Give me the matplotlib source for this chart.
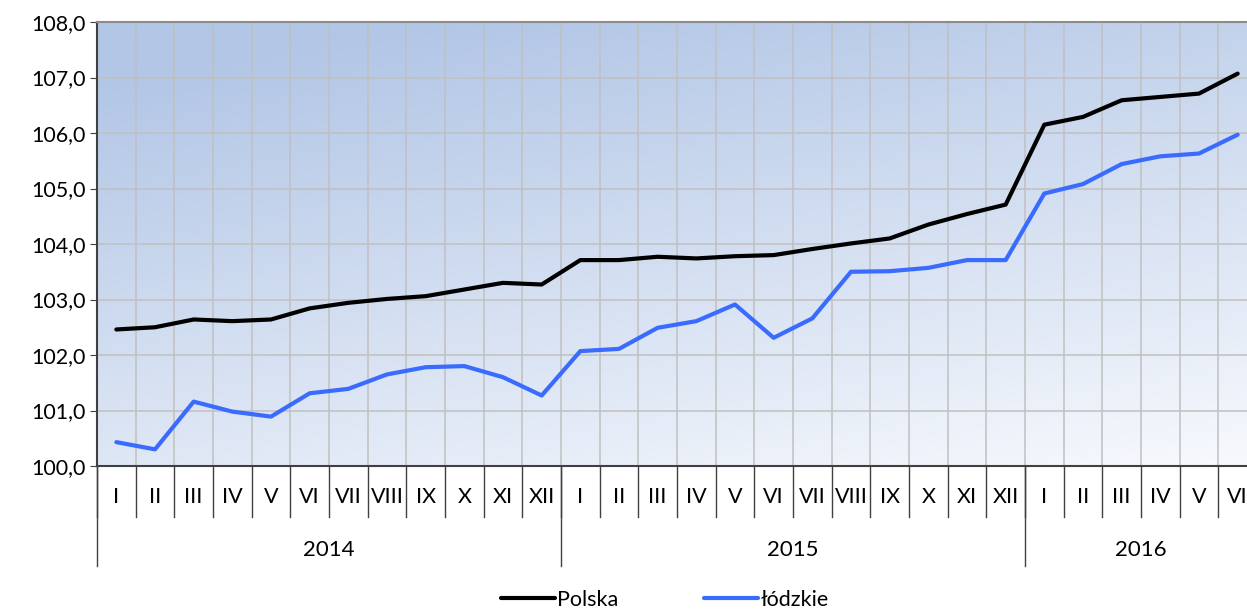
import matplotlib
matplotlib.use("Agg")
import matplotlib.pyplot as plt
import matplotlib.transforms as mtransforms
from matplotlib.colors import LinearSegmentedColormap
import numpy as np

plt.rcParams['font.family'] = ['Lato', 'DejaVu Sans']

months = ['I', 'II', 'III', 'IV', 'V', 'VI', 'VII', 'VIII', 'IX', 'X', 'XI', 'XII',
          'I', 'II', 'III', 'IV', 'V', 'VI', 'VII', 'VIII', 'IX', 'X', 'XI', 'XII',
          'I', 'II', 'III', 'IV', 'V', 'VI']
years = ['2014', '2015', '2016']
year_len = [12, 12, 6]

polska = [102.46, 102.50, 102.64, 102.61, 102.64, 102.84, 102.94, 103.01, 103.06, 103.18, 103.30, 103.27,
          103.71, 103.71, 103.77, 103.74, 103.78, 103.80, 103.91, 104.01, 104.10, 104.35, 104.54, 104.71,
          106.15, 106.29, 106.59, 106.65, 106.71, 107.07]
lodzkie = [100.43, 100.30, 101.16, 100.98, 100.89, 101.31, 101.39, 101.65, 101.78, 101.80, 101.60, 101.27,
           102.07, 102.11, 102.49, 102.61, 102.91, 102.31, 102.66, 103.50, 103.51, 103.57, 103.71, 103.71,
           104.91, 105.08, 105.44, 105.58, 105.63, 105.97]

W, H = 1247, 610
fs = 15.5
fig = plt.figure(figsize=(W / 100, H / 100), dpi=100)
n = len(months)
ax = fig.add_axes([97 / W, (H - 466) / H, 1160 / W, 444 / H])
x = np.arange(n)

# gradient background, darkest top-left
gx, gy = np.meshgrid(np.linspace(0, 1, 200), np.linspace(0, 1, 200))
t = np.clip(0.35 * (1 - gx) + 0.75 * (1 - gy), 0, 1)
cmap = LinearSegmentedColormap.from_list('bg', ['#f7f9fd', '#b2c6e6'])
ax.imshow(t, extent=[0, 1, 0, 1], transform=ax.transAxes, cmap=cmap,
          aspect='auto', origin='upper', zorder=0, interpolation='bilinear')

ax.plot(x, polska, color='black', lw=3, label='Polska', zorder=3, solid_capstyle='round')
ax.plot(x, lodzkie, color='#3a6bff', lw=3, label='łódzkie', zorder=3, solid_capstyle='round')

ax.set_xlim(-0.5, n - 0.5)
ax.set_ylim(100, 108)
ax.set_yticks(np.arange(100, 109, 1))
ax.set_yticklabels([f'{v:.1f}'.replace('.', ',') for v in np.arange(100, 109, 1)], fontsize=fs)
ax.set_xticks(np.arange(-0.5, n, 1), minor=False)
ax.set_xticklabels([])
ax.tick_params(axis='x', length=0)
ax.tick_params(axis='y', length=5, color='#404040', pad=3)
ax.grid(True, color='#c0c0c0', lw=1.1, zorder=1)
ax.set_axisbelow(True)
for s in ['left', 'bottom']:
    ax.spines[s].set_color('#404040')
    ax.spines[s].set_linewidth(1.5)
ax.spines['top'].set_color('#8c8c8c')
ax.spines['top'].set_linewidth(1.5)
ax.spines['right'].set_visible(False)

# category axis: months and years
trans = mtransforms.blended_transform_factory(ax.transData, fig.transFigure)
y_axis = (H - 466) / H
y_month_end = (H - 517) / H
y_year_end = (H - 566) / H
for k in range(n + 1):
    ax.plot([k - 0.5, k - 0.5], [y_axis, y_month_end], transform=trans, color='#404040',
            lw=1, clip_on=False)
for i, m in enumerate(months):
    ax.text(i, (H - 497) / H, m, transform=trans, ha='center', va='center', fontsize=fs)
start = 0
for yr, ln in zip(years, year_len):
    ax.plot([start - 0.5, start - 0.5], [y_axis, y_year_end], transform=trans, color='#404040',
            lw=1, clip_on=False)
    ax.text(start + ln / 2 - 0.5, (H - 550) / H, yr, transform=trans, ha='center', va='center',
            fontsize=16)
    start += ln

fig.legend(loc='center', bbox_to_anchor=(0.533, (H - 600) / H), ncol=2, frameon=False,
           fontsize=fs, handlelength=2.5, handletextpad=0.1, columnspacing=4.0)

fig.savefig('out.png', dpi=100)
